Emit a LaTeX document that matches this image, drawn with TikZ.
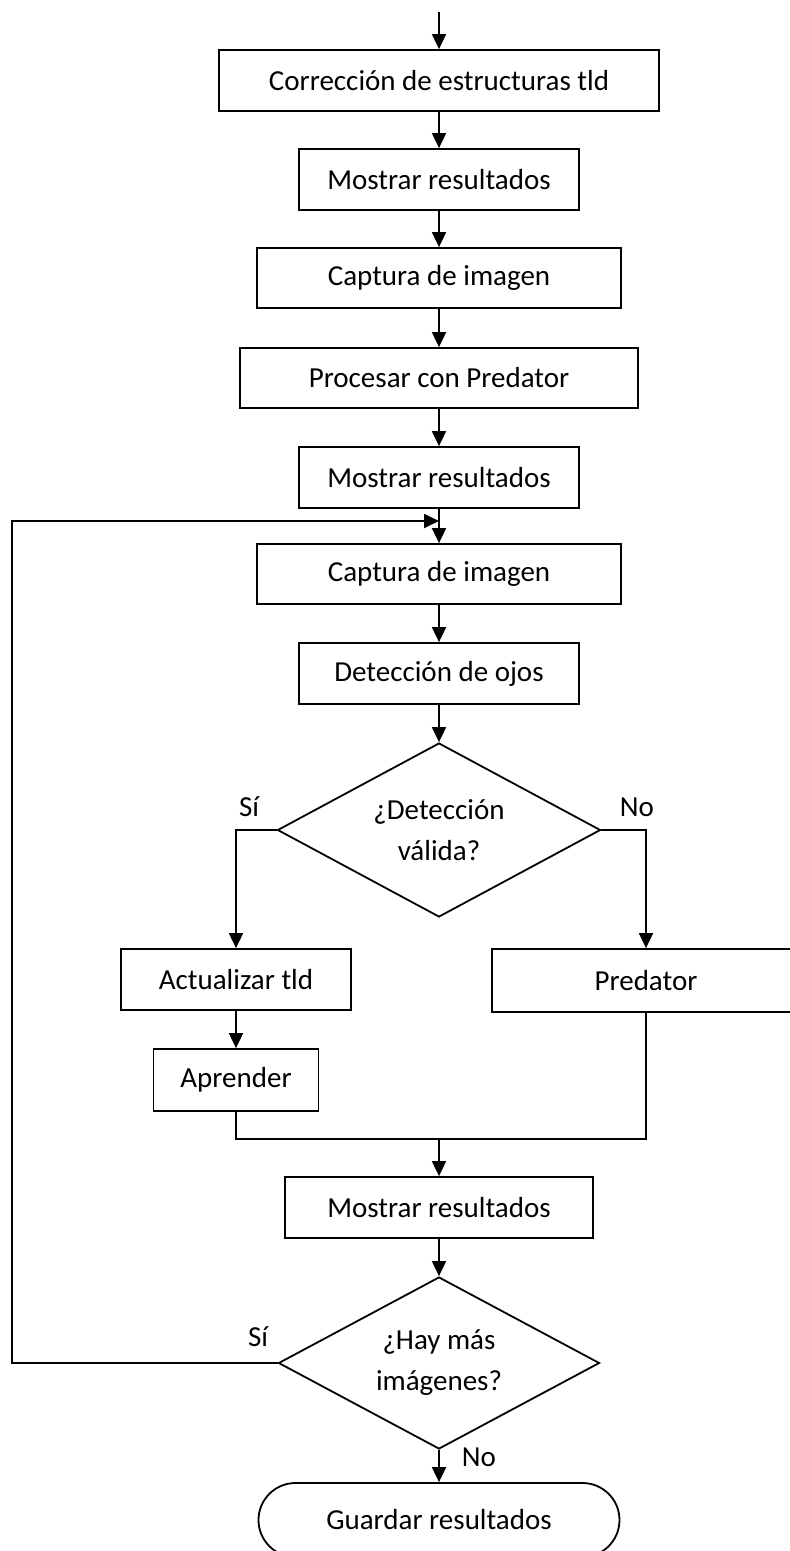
\documentclass[tikz,border=0pt]{standalone}
\usepackage{fontspec}
\setmainfont{Carlito}
\usetikzlibrary{arrows.meta,shapes.geometric}

\begin{document}
\begin{tikzpicture}[x=1pt,y=-1pt,
  every node/.style={font=\fontsize{29pt}{41pt}\selectfont, inner sep=0pt},
  stepbox/.style={draw, rectangle, line width=1.8pt, minimum height=61pt, align=center},
  decision/.style={draw, diamond, line width=1.8pt, shape aspect=1.85, align=center},
  terminal/.style={draw, rectangle, rounded corners=37pt, line width=1.8pt, minimum width=361pt, minimum height=74pt},
  lbl/.style={},
  arr/.style={line width=1.8pt, -{Triangle[length=15pt,width=14pt]}},
  ln/.style={line width=1.8pt}]

\useasboundingbox (0,0) rectangle (790,1551);

% main column
\coordinate (start) at (439,12);
\node[stepbox, minimum width=440pt] (b1) at (439,80.5) {Corrección de estructuras tld};
\node[stepbox, minimum width=280pt] (b2) at (439,179.5) {Mostrar resultados};
\node[stepbox, minimum width=364pt, minimum height=60pt] (b3) at (439,278) {Captura de imagen};
\node[stepbox, minimum width=398pt, minimum height=60pt] (b4) at (439,378) {Procesar con Predator};
\node[stepbox, minimum width=280pt] (b5) at (439,477.5) {Mostrar resultados};
\node[stepbox, minimum width=364pt, minimum height=60pt] (b6) at (439,574) {Captura de imagen};
\node[stepbox, minimum width=280pt] (b7) at (439,673.5) {Detección de ojos};
\node[decision, minimum width=323pt, minimum height=174pt] (d1) at (439,830) {¿Detección\\válida?};

% branches
\node[stepbox, minimum width=230pt] (act) at (236,979.5) {Actualizar tld};
\node[stepbox, minimum width=165pt, minimum height=62pt] (apr) at (236,1080) {Aprender};
\node[stepbox, minimum width=308pt, minimum height=63pt] (pred) at (646,980.5) {Predator};

\node[stepbox, minimum width=308pt] (m3) at (439,1207.5) {Mostrar resultados};
\node[decision, minimum width=321pt, minimum height=172pt] (d2) at (439,1363) {¿Hay más\\imágenes?};
\node[terminal] (end) at (439,1520) {Guardar resultados};

% labels
\node[lbl] (si1) at (249,807) {Sí};
\node[lbl] (no1) at (637,807) {No};
\node[lbl] (si2) at (258,1337) {Sí};
\node[lbl] (no2) at (479,1457) {No};

% connectors
\draw[arr] (start) -- (b1.north);
\draw[arr] (b1) -- (b2);
\draw[arr] (b2) -- (b3);
\draw[arr] (b3) -- (b4);
\draw[arr] (b4) -- (b5);
\draw[arr] (b5) -- (b6);
\draw[arr] (b6) -- (b7);
\draw[arr] (b7) -- (d1.north);

\draw[arr] (d1.west) -| (act.north);
\draw[arr] (d1.east) -| (pred.north);
\draw[arr] (act) -- (apr);

\coordinate (mj) at (439,1139);
\draw[ln] (apr.south) |- (mj);
\draw[ln] (pred.south) |- (mj);
\draw[arr] (mj) -- (m3.north);
\draw[arr] (m3) -- (d2.north);
\draw[arr] (d2.south) -- (end.north);

% loop back
\coordinate (lp) at (439,521);
\coordinate (lc) at (12,521);
\draw[arr] (d2.west) -| (lc) -- (lp);

\end{tikzpicture}
\end{document}
